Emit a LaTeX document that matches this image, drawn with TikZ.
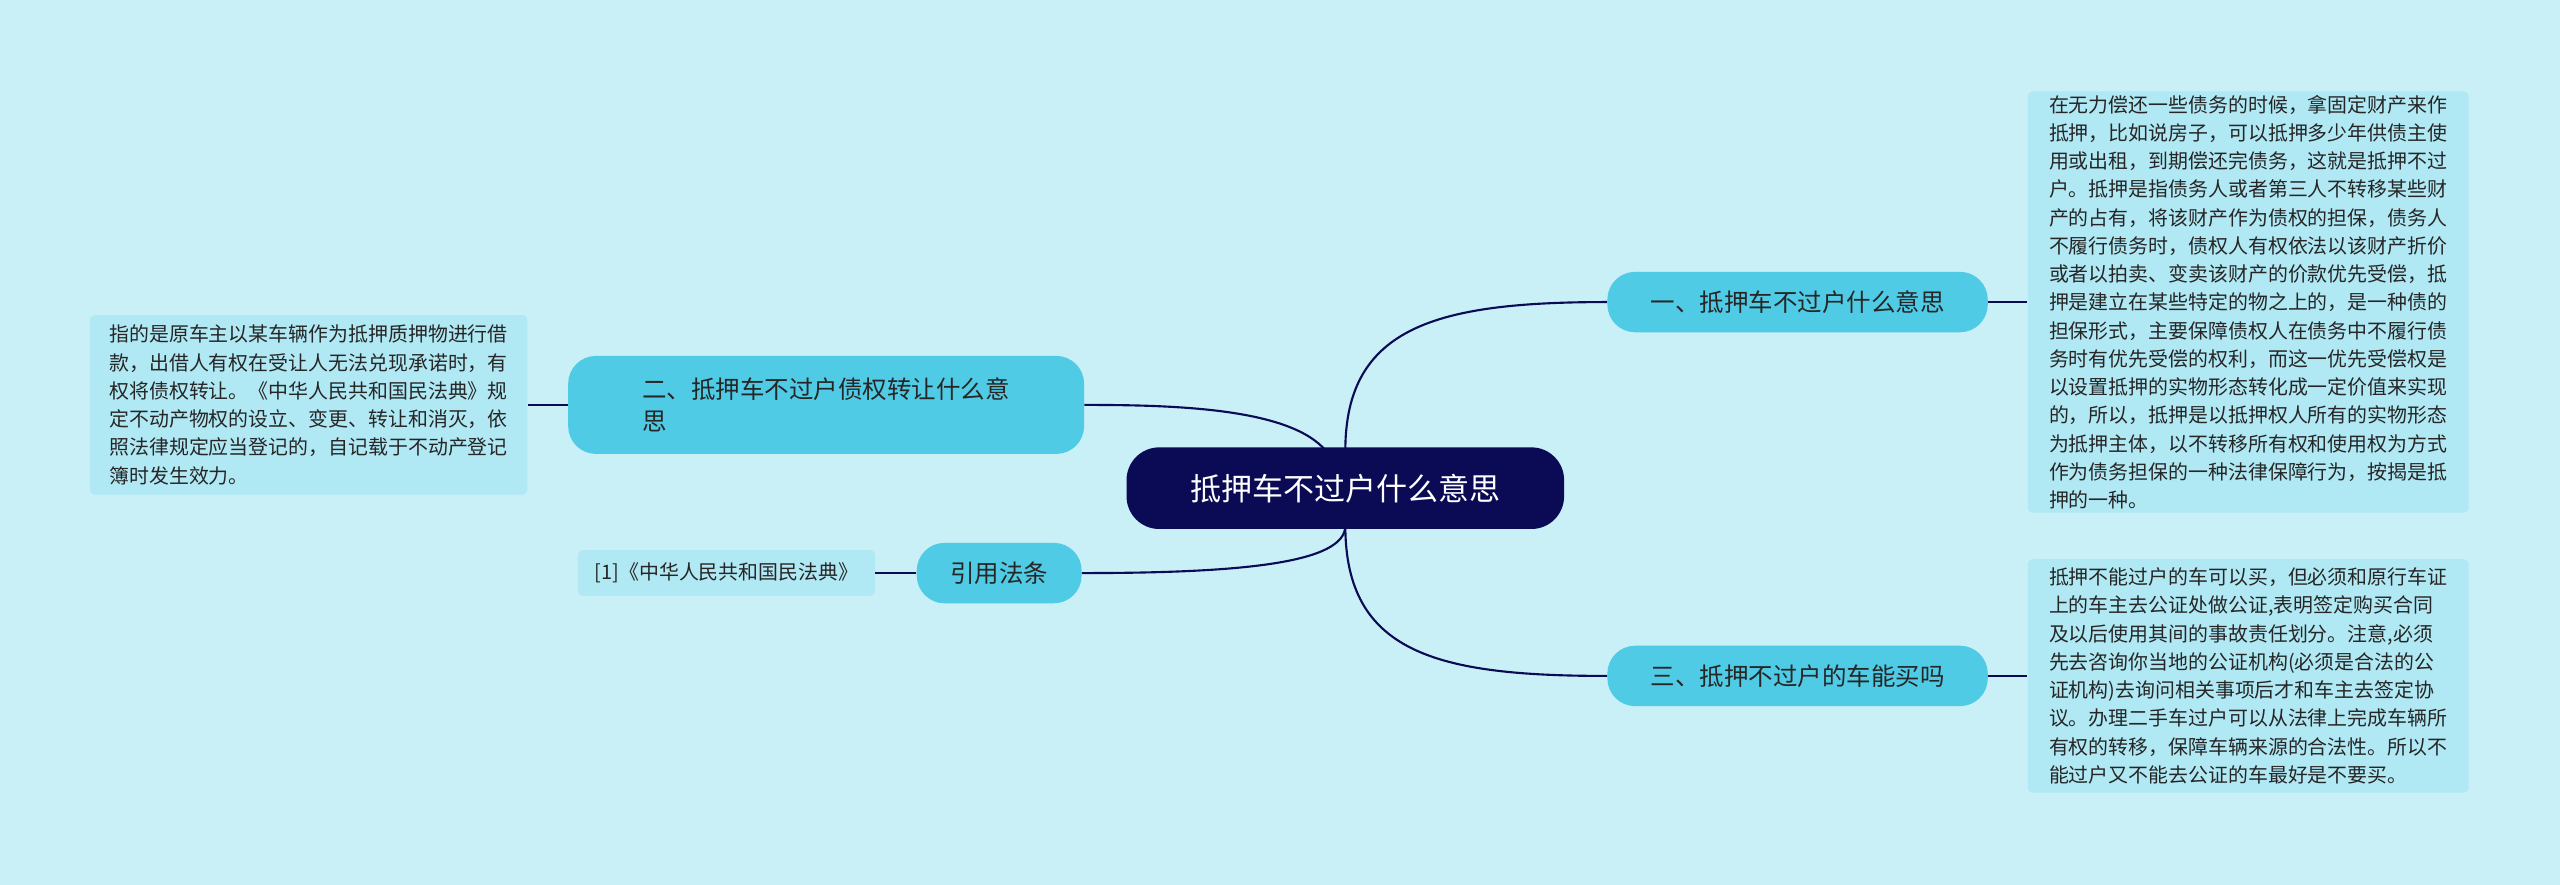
\documentclass[tikz,border=0pt]{standalone}
\usepackage{fontspec}
\setmainfont{Noto Sans CJK SC}
\begin{document}
\begin{tikzpicture}[x=1pt,y=-1pt,
 leaf/.style={fill=leafc,rounded corners=3pt,align=left,inner sep=0pt,font=\fontsize{12.2}{17.3}\selectfont,text=black!85},
 branch/.style={fill=branchc,rounded corners=17pt,inner sep=0pt,font=\fontsize{15}{20}\selectfont,text=black!85},
 conn/.style={draw=navy,line width=1.3pt}]
\definecolor{bg}{HTML}{C9EFF7}
\definecolor{leafc}{HTML}{B0E8F4}
\definecolor{branchc}{HTML}{4FCBE5}
\definecolor{navy}{HTML}{0B0B55}
\fill[bg] (0,0) rectangle (1568,542);
\useasboundingbox (0,0) rectangle (1568,542);
\node[fill=navy,rounded corners=20pt,minimum width=268pt,minimum height=50pt,text=white,font=\fontsize{19}{24}\selectfont] (c) at (824,299) {抵押车不过户什么意思};
\node[branch,minimum width=233pt,minimum height=37pt] (r1) at (1101,185) {一、抵押车不过户什么意思};
\node[branch,minimum width=233pt,minimum height=37pt] (r2) at (1101,414) {三、抵押不过户的车能买吗};
\node[branch,minimum width=316pt,minimum height=60pt,align=left] (l1) at (506,248) {二、抵押车不过户债权转让什么意\\思};
\node[branch,minimum width=101pt,minimum height=37pt] (l2) at (612,351) {引用法条};
\node[leaf,minimum width=270pt,minimum height=258pt] (t1) at (1377,185) {在无力偿还一些债务的时候，拿固定财产来作\\抵押，比如说房子，可以抵押多少年供债主使\\用或出租，到期偿还完债务，这就是抵押不过\\户。抵押是指债务人或者第三人不转移某些财\\产的占有，将该财产作为债权的担保，债务人\\不履行债务时，债权人有权依法以该财产折价\\或者以拍卖、变卖该财产的价款优先受偿，抵\\押是建立在某些特定的物之上的，是一种债的\\担保形式，主要保障债权人在债务中不履行债\\务时有优先受偿的权利，而这一优先受偿权是\\以设置抵押的实物形态转化成一定价值来实现\\的，所以，抵押是以抵押权人所有的实物形态\\为抵押主体，以不转移所有权和使用权为方式\\作为债务担保的一种法律保障行为，按揭是抵\\押的一种。};
\node[leaf,minimum width=270pt,minimum height=143pt] (t2) at (1377,414) {抵押不能过户的车可以买，但必须和原行车证\\上的车主去公证处做公证,表明签定购买合同\\及以后使用其间的事故责任划分。注意,必须\\先去咨询你当地的公证机构(必须是合法的公\\证机构)去询问相关事项后才和车主去签定协\\议。办理二手车过户可以从法律上完成车辆所\\有权的转移，保障车辆来源的合法性。所以不\\能过户又不能去公证的车最好是不要买。};
\node[leaf,minimum width=268pt,minimum height=110pt] (t3) at (189,248) {指的是原车主以某车辆作为抵押质押物进行借\\款，出借人有权在受让人无法兑现承诺时，有\\权将债权转让。《中华人民共和国民法典》规\\定不动产物权的设立、变更、转让和消灭，依\\照法律规定应当登记的，自记载于不动产登记\\簿时发生效力。};
\node[leaf,minimum width=182pt,minimum height=28pt] (t4) at (445,351) {[1]《中华人民共和国民法典》};
\coordinate (ct) at (824,276);
\coordinate (cb) at (824,322);
\draw[conn] (ct) .. controls (824,200) and (880,185) .. (r1.west);
\draw[conn] (cb) .. controls (824,400) and (880,414) .. (r2.west);
\draw[conn] (812,276) .. controls (790,250) and (720,248) .. (l1.east);
\draw[conn] (cb) .. controls (824,345) and (760,351) .. (l2.east);
\draw[conn] (r1) -- (t1);
\draw[conn] (r2) -- (t2);
\draw[conn] (l1) -- (t3);
\draw[conn] (l2) -- (t4);
\end{tikzpicture}
\end{document}
